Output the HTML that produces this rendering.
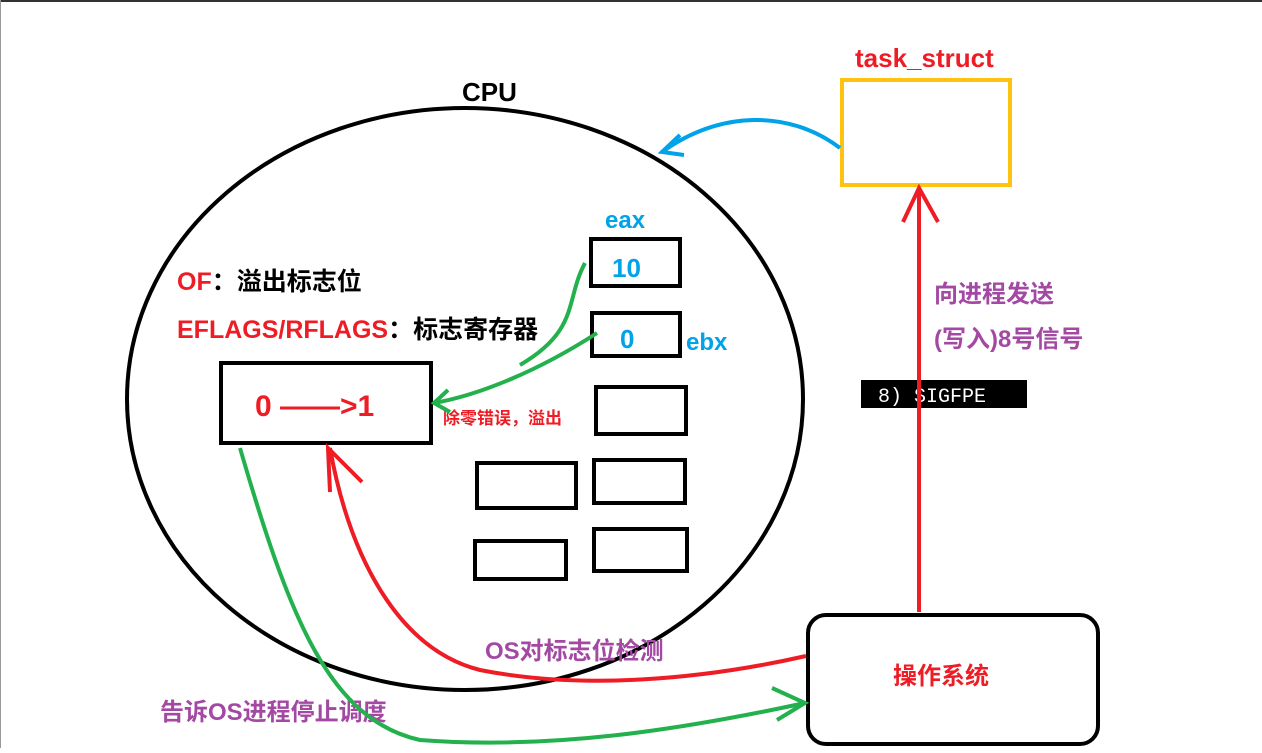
<!DOCTYPE html>
<html><head><meta charset="utf-8"><style>
body{margin:0;width:1262px;height:748px;overflow:hidden;background:#fff;}
svg text{font-family:"Liberation Sans","Noto Sans CJK SC",sans-serif;font-weight:bold;}
</style></head><body>
<svg width="1262" height="748" viewBox="0 0 1262 748" xmlns="http://www.w3.org/2000/svg">
<rect x="0" y="0" width="1262" height="2" fill="#333"/>
<rect x="0" y="0" width="1" height="748" fill="#999"/>
<ellipse cx="465" cy="399" rx="338" ry="291" fill="none" stroke="#000" stroke-width="4"/>
<text x="462" y="101" font-size="26" fill="#000">CPU</text>
<text x="855" y="67" font-size="26" fill="#ee1c24">task_struct</text>
<rect x="842" y="80" width="168" height="105" fill="none" stroke="#ffc20e" stroke-width="4"/>
<path d="M840 148 C790 110 720 110 662 152" fill="none" stroke="#00a2e8" stroke-width="4"/>
<path d="M680 135 L662 152 L684 155" fill="none" stroke="#00a2e8" stroke-width="4"/>
<text x="605" y="228" font-size="24" fill="#00a2e8">eax</text>
<rect x="591" y="239" width="89" height="47" fill="none" stroke="#000" stroke-width="4"/>
<text x="612" y="277" font-size="26" fill="#00a2e8">10</text>
<rect x="592" y="313" width="88" height="43" fill="none" stroke="#000" stroke-width="4"/>
<text x="620" y="348" font-size="26" fill="#00a2e8">0</text>
<text x="686" y="350" font-size="24" fill="#00a2e8">ebx</text>
<rect x="596" y="387" width="90" height="47" fill="none" stroke="#000" stroke-width="4"/>
<rect x="594" y="460" width="91" height="43" fill="none" stroke="#000" stroke-width="4"/>
<rect x="477" y="463" width="99" height="45" fill="none" stroke="#000" stroke-width="4"/>
<rect x="475" y="541" width="91" height="38" fill="none" stroke="#000" stroke-width="4"/>
<rect x="594" y="529" width="93" height="42" fill="none" stroke="#000" stroke-width="4"/>
<text x="177" y="290" font-size="25" fill="#ee1c24">OF<tspan fill="#000">：溢出标志位</tspan></text>
<text x="177" y="338" font-size="25" fill="#ee1c24">EFLAGS/RFLAGS<tspan fill="#000">：标志寄存器</tspan></text>
<rect x="221" y="363" width="210" height="80" fill="none" stroke="#000" stroke-width="4"/>
<text x="255" y="416" font-size="30" fill="#ee1c24">0 ——&gt;1</text>
<text x="443" y="424" font-size="17" fill="#ee1c24">除零错误，溢出</text>
<path d="M585 263 C565 300 580 330 520 365" fill="none" stroke="#22b14c" stroke-width="4"/>
<path d="M597 333 C540 370 480 395 434 403" fill="none" stroke="#22b14c" stroke-width="4"/>
<path d="M448 390 L434 403 L450 412" fill="none" stroke="#22b14c" stroke-width="4"/>
<rect x="861" y="380" width="166" height="28" fill="#000"/>
<text x="878" y="402" font-size="20" font-weight="normal" style="font-family:'Liberation Mono',monospace;font-weight:normal" fill="#fff">8) SIGFPE</text>
<text x="934" y="302" font-size="24" fill="#a349a4">向进程发送</text>
<text x="934" y="347" font-size="24" fill="#a349a4">(写入)8号信号</text>
<line x1="919" y1="612" x2="919" y2="188" stroke="#ee1c24" stroke-width="4"/>
<path d="M903 222 L919 188 L938 222" fill="none" stroke="#ee1c24" stroke-width="4"/>
<rect x="808" y="615" width="290" height="129" rx="18" fill="none" stroke="#000" stroke-width="4"/>
<text x="893" y="684" font-size="24" fill="#ee1c24">操作系统</text>
<text x="485" y="659" font-size="24" fill="#a349a4">OS对标志位检测</text>
<text x="160" y="720" font-size="24" fill="#a349a4">告诉OS进程停止调度</text>
<path d="M806 656 C700 680 580 690 480 670 C400 650 350 560 330 448" fill="none" stroke="#ee1c24" stroke-width="4"/>
<path d="M330 492 L328 448 L362 482" fill="none" stroke="#ee1c24" stroke-width="4"/>
<path d="M240 448 C290 620 330 720 420 740 C550 750 680 730 805 703" fill="none" stroke="#22b14c" stroke-width="4"/>
<path d="M772 688 L805 703 L777 720" fill="none" stroke="#22b14c" stroke-width="4"/>
</svg>
</body></html>
